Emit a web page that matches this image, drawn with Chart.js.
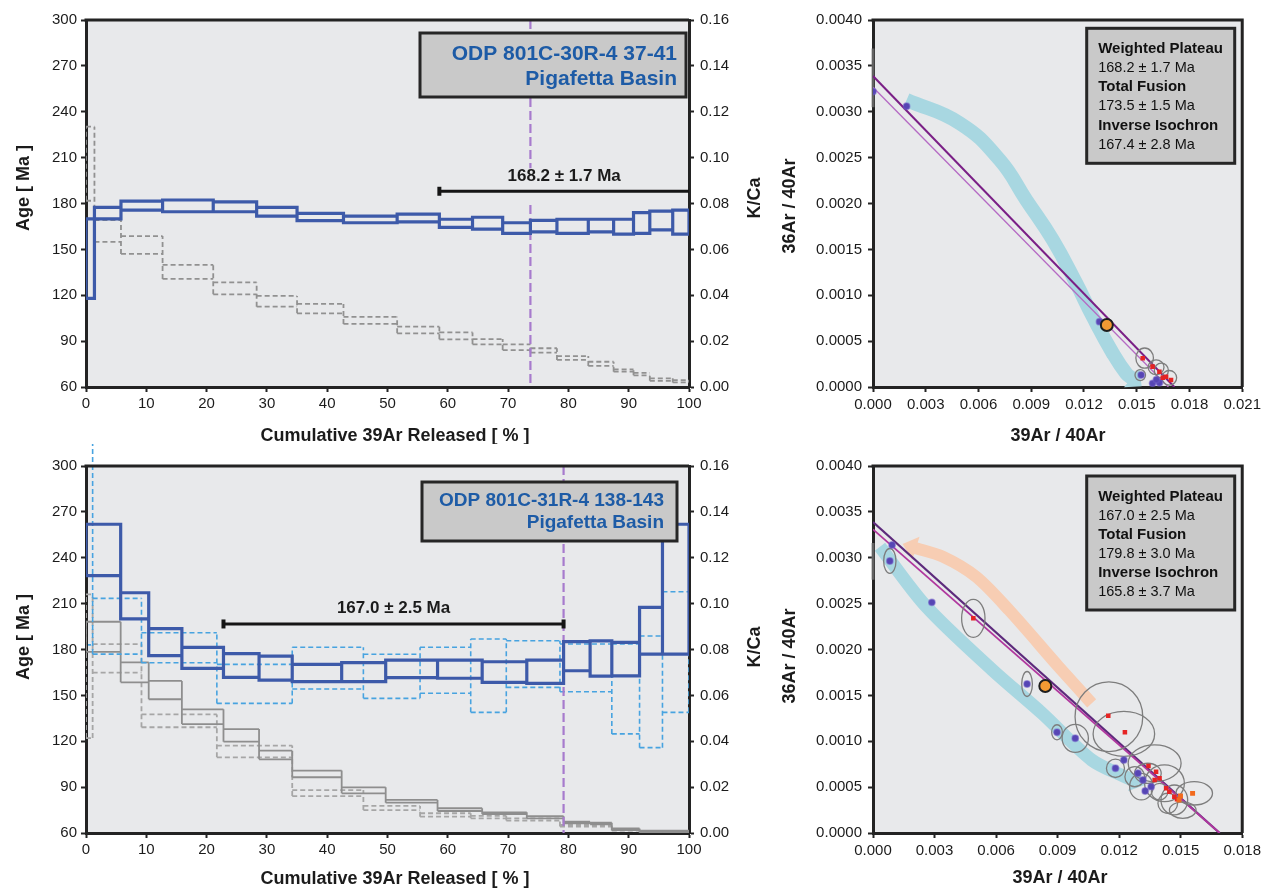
<!DOCTYPE html>
<html><head><meta charset="utf-8">
<script src="https://cdn.jsdelivr.net/npm/chart.js@4.4.1/dist/chart.umd.min.js"></script>
<style>
html,body{margin:0;padding:0;background:#fff;width:1265px;height:888px;overflow:hidden}
canvas{position:absolute;display:block}
</style></head><body>
<canvas id="c1" width="770" height="444" style="left:0;top:0;width:770px;height:444px"></canvas>
<canvas id="c2" width="495" height="444" style="left:770px;top:0;width:495px;height:444px"></canvas>
<canvas id="c3" width="770" height="444" style="left:0;top:444px;width:770px;height:444px"></canvas>
<canvas id="c4" width="495" height="444" style="left:770px;top:444px;width:495px;height:444px"></canvas>
<script>
// ================= DATA =================
// ---- tick labels ----
const pctTicks = [0,10,20,30,40,50,60,70,80,90,100];
const ageTicks = [60,90,120,150,180,210,240,270,300];
const kcaTicks = [0,0.02,0.04,0.06,0.08,0.10,0.12,0.14,0.16];
const isoXTicks30 = [0,0.003,0.006,0.009,0.012,0.015,0.018,0.021];
const isoXTicks31 = [0,0.003,0.006,0.009,0.012,0.015,0.018];
const isoYTicks = [0,0.0005,0.0010,0.0015,0.0020,0.0025,0.0030,0.0035,0.0040];

// ---- ODP 801C-30R-4 37-41 : age spectrum ----
const steps30 = [0,1.4,5.8,12.7,21.1,28.3,35.0,42.7,51.6,58.6,64.1,69.1,73.7,78.1,83.3,87.5,90.8,93.5,97.3,100];
const ageHi30 = [170,177.5,181.6,182.3,181,177.5,173.6,171.8,173,169.7,171,167.4,169,169.7,169.7,169.7,174,175,175.7];
const ageLo30 = [118,170,175.7,174.6,174.6,171.8,168.8,167.4,168,164.4,163.3,160.5,161.5,160.5,161.5,160,160.5,162.7,160];
const kcaHi30 = [0.1135,0.0728,0.0658,0.0532,0.0456,0.0397,0.0362,0.0306,0.0263,0.0238,0.0209,0.0186,0.0169,0.0135,0.0110,0.0077,0.0062,0.0038,0.0030];
const kcaLo30 = [0.0812,0.0633,0.0580,0.0471,0.0404,0.0350,0.0321,0.0275,0.0234,0.0208,0.0186,0.0161,0.0150,0.0118,0.0092,0.0067,0.0051,0.0027,0.0020];
const plateau30 = [58.6,100];
const plateauLevel30 = 188;
const plateauText30 = '168.2 ± 1.7 Ma';
const marker30 = 73.7;
const markerAges30 = [300,203,null,179,60];
const label30 = ['ODP 801C-30R-4 37-41','Pigafetta Basin'];

// ---- ODP 801C-31R-4 138-143 : age spectrum ----
const stepsA31 = [0,5.75,10.4,15.9,22.8,28.7,34.2,42.4,49.7,58.3,65.7,73.1,79.2,83.6,87.2,91.8,95.6,100];
const ageHi31 = [261.9,217.1,193.6,181.4,177.3,175.7,170.3,171.4,173.1,173.1,172,173.1,185.1,185.7,184.7,207.6,261.9];
const ageLo31 = [228.3,200,176,167.7,161.8,160,159,159,161.6,161.2,158.5,157.8,166.1,162.6,162.8,177,177];
const grayHiA31 = [0.0921,0.0744,0.0663,0.0539,0.0453,0.0359,0.0272,0.0199,0.0144,0.0108,0.0090,0.0074,0.0049,0.0045,0.0020,0.0010,0.0010];
const grayLoA31 = [0.0790,0.0657,0.0583,0.0475,0.0398,0.0321,0.0243,0.0173,0.0132,0.0096,0.0082,0.0064,0.0042,0.0038,0.0013,0.0004,0.0004];
const stepsB31 = [0,1.1,9.2,21.7,34.2,46.0,55.4,63.8,69.7,78.6,87.2,91.8,95.6,100];
const kcaHiB31 = [0.20,0.1023,0.0873,0.0735,0.0810,0.0779,0.0810,0.0846,0.0838,0.0824,0.0824,0.0859,0.1052];
const kcaLoB31 = [0.082,0.0780,0.0742,0.0565,0.0628,0.0587,0.0609,0.0526,0.0635,0.0616,0.0432,0.0372,0.0526];
const grayHiB31 = [0.104,0.0823,0.0517,0.0381,0.0187,0.0118,0.0086,0.0075,0.0064,0.0035,0.0015,0.0005,0.0005];
const grayLoB31 = [0.0414,0.0699,0.0461,0.0330,0.0161,0.0100,0.0071,0.0064,0.0054,0.0028,0.0010,0.0002,0.0002];
const plateau31 = [22.8,79.2];
const plateauLevel31 = 196.7;
const plateauText31 = '167.0 ± 2.5 Ma';
const marker31 = 79.2;
const markerAges31 = [300,60];
const label31 = ['ODP 801C-31R-4 138-143','Pigafetta Basin'];

// ---- inverse isochron 30R ----
const isoStepX30 = [0.0000,0.00191,0.01288,0.01525,0.01590,0.01629,0.01612];
const isoStepY30 = [0.00322,0.00306,0.000712,0.000131,0.000040,0.000047,0.000080];
const isoPlatX30 = [0.01534,0.01590,0.01629,0.01648,0.01667,0.01695];
const isoPlatY30 = [0.000313,0.000222,0.000167,0.000100,0.000112,0.000076];
const isoTotalX30 = [0.0133];
const isoTotalY30 = [0.000676];
const ellX30 = [0.01545,0.01610,0.01640,0.01685,0.01520];
const ellY30 = [0.000315,0.000215,0.000180,0.000100,0.000130];
const ellEX30 = [0.00050,0.00045,0.00040,0.00042,0.00030];
const ellEY30 = [0.00011,0.00008,0.00008,0.00008,0.00006];
const fitX30 = [0,0.01714];
const fitY30 = [0.00339,0];
const fit2X30 = [0,0.0168];
const fit2Y30 = [0.003267,0];
const interceptY30 = [0.00369,0.00305];
const trendX30 = [0.00191,0.00494,0.00721,0.00872,0.01023,0.01156,0.01250,0.01364,0.01440,0.01480];
const trendY30 = [0.003128,0.002874,0.002474,0.002038,0.001602,0.001130,0.000767,0.000367,0.000149,0.000085];
const stats30 = [['Weighted Plateau','168.2 ± 1.7 Ma'],['Total Fusion','173.5 ± 1.5 Ma'],['Inverse Isochron','167.4 ± 2.8 Ma']];

// ---- inverse isochron 31R ----
const isoStepX31 = [0.00093,0.00082,0.00287,0.00751,0.00897,0.00986,0.01182,0.01223,0.01292,0.01316,0.01327,0.01356];
const isoStepY31 = [0.003139,0.002965,0.002514,0.001624,0.001098,0.001032,0.000705,0.000796,0.000651,0.000578,0.000458,0.000505];
const isoPlatX31 = [0.00489,0.01147,0.01228,0.01343,0.01380,0.01373,0.01397,0.01429,0.01445,0.01469,0.01482];
const isoPlatY31 = [0.00234,0.001279,0.001098,0.00073,0.000668,0.000578,0.000596,0.000487,0.00045,0.000396,0.000367];
const isoHighX31 = [0.01499,0.01558,0.01492];
const isoHighY31 = [0.000403,0.000432,0.000360];
const isoTotalX31 = [0.0084];
const isoTotalY31 = [0.001602];
const ellX31 = [0.00082,0.00489,0.00751,0.00897,0.00986,0.01150,0.01223,0.01182,0.01373,0.01421,0.01566,0.01469,0.01308,0.01340,0.01437,0.01276,0.01397,0.01510];
const ellY31 = [0.002965,0.00234,0.001624,0.001098,0.001032,0.001268,0.00108,0.000705,0.00076,0.000542,0.000432,0.00036,0.000505,0.00065,0.000324,0.000614,0.00045,0.00025];
const ellEX31 = [0.00030,0.00057,0.00026,0.00026,0.00064,0.00165,0.00150,0.00044,0.00129,0.00097,0.00089,0.00065,0.00057,0.00065,0.00048,0.00048,0.00040,0.00065];
const ellEY31 = [0.000136,0.000207,0.000136,0.000082,0.000153,0.00038,0.000245,0.0001,0.0002,0.0002,0.000127,0.000163,0.000145,0.00011,0.00011,0.00011,0.00009,0.00009];
const fitX31 = [0,0.0169];
const fitY31 = [0.00339,0];
const fit2X31 = [0,0.0169];
const fit2Y31 = [0.00331,0];
const interceptY31 = [0.00316,0.00276];
const trendX31 = [0.00034,0.00260,0.00582,0.00824,0.01066,0.01228,0.01275];
const trendY31 = [0.00312,0.002467,0.001777,0.001305,0.000796,0.000614,0.000570];
const returnX31 = [0.01066,0.00905,0.00663,0.00502,0.00340,0.00200];
const returnY31 = [0.001413,0.001813,0.00243,0.002794,0.003012,0.00311];
const stats31 = [['Weighted Plateau','167.0 ± 2.5 Ma'],['Total Fusion','179.8 ± 3.0 Ma'],['Inverse Isochron','165.8 ± 3.7 Ma']];

// ================= STYLE / HELPERS =================
const FONT = "'Liberation Sans', Arial, Helvetica, sans-serif";
Chart.defaults.font.family = FONT;
Chart.defaults.animation = false;
const PLOT_BG = '#e8e9eb', AXIS = '#232323', TXT = '#1b1b1b';
const BLUE = '#3d5aa9', LBLUE = '#47a3e0', GRAY = '#8e8e8e', LGRAY = '#a6a6a6', PURPLE = '#a77bcd';

// step spectrum: upper & lower step lines joined by verticals at every step boundary
function stairs(steps, hi, lo) {
  const pts = [];
  const seg = (x1, y1, x2, y2) => pts.push({x: x1, y: y1}, {x: x2, y: y2}, {x: x2, y: null});
  for (let i = 0; i < hi.length; i++) {
    seg(steps[i], hi[i], steps[i + 1], hi[i]);
    seg(steps[i], lo[i], steps[i + 1], lo[i]);
  }
  for (let j = 0; j <= hi.length; j++) {
    const idx = [j - 1, j].filter(k => k >= 0 && k < hi.length);
    seg(steps[j], Math.min(...idx.map(k => lo[k])), steps[j], Math.max(...idx.map(k => hi[k])));
  }
  return pts;
}
const xy = (xs, ys) => xs.map((x, i) => ({x, y: ys[i]}));
const fixedTicks = arr => (s => { s.ticks = arr.map(v => ({value: v})); });

function txt(ctx, s, x, y, font, color, align, rot) {
  ctx.save(); ctx.translate(x, y); ctx.rotate(rot || 0);
  ctx.font = font; ctx.fillStyle = color; ctx.textAlign = align || 'center'; ctx.textBaseline = 'middle';
  ctx.fillText(s, 0, 0); ctx.restore();
}
function panel(ctx, x, y, w, h) {
  ctx.save(); ctx.fillStyle = '#c9c9c9'; ctx.fillRect(x, y, w, h);
  ctx.lineWidth = 3; ctx.strokeStyle = '#262626'; ctx.strokeRect(x, y, w, h); ctx.restore();
}

function makeDeco(cfg) {
  return {
    id: 'deco',
    beforeDraw(chart) {
      const {ctx, chartArea: a} = chart;
      ctx.save(); ctx.fillStyle = PLOT_BG; ctx.fillRect(a.left, a.top, a.right - a.left, a.bottom - a.top); ctx.restore();
    },
    afterDatasetDraw(chart, args) {
      const ds = chart.data.datasets[args.index];
      const ctx = chart.ctx;
      if (ds.arrow) {
        const pts = args.meta.data, p1 = pts[pts.length - 1], p0 = pts[pts.length - 2];
        const ang = Math.atan2(p1.y - p0.y, p1.x - p0.x);
        ctx.save(); ctx.fillStyle = ds.borderColor; ctx.translate(p1.x, p1.y); ctx.rotate(ang);
        ctx.beginPath(); ctx.moveTo(ds.arrow[0], 0); ctx.lineTo(-2, -ds.arrow[1]); ctx.lineTo(-2, ds.arrow[1]); ctx.closePath(); ctx.fill(); ctx.restore();
      }
      if (ds.ellipsesAfter && cfg.ell) {
        const sx = chart.scales.x, sy = chart.scales.y, e = cfg.ell;
        ctx.save(); ctx.strokeStyle = '#7d7d7d'; ctx.lineWidth = 1.3;
        for (let i = 0; i < e.x.length; i++) {
          const px = sx.getPixelForValue(e.x[i]), py = sy.getPixelForValue(e.y[i]);
          const rx = Math.abs(sx.getPixelForValue(e.x[i] + e.ex[i]) - px);
          const ry = Math.abs(sy.getPixelForValue(e.y[i] + e.ey[i]) - py);
          ctx.beginPath(); ctx.ellipse(px, py, rx, ry, 0, 0, Math.PI * 2); ctx.stroke();
        }
        ctx.restore();
      }
    },
    afterDatasetsDraw(chart) {
      const ctx = chart.ctx;
      if (cfg.plateau) {
        const p = cfg.plateau, sx = chart.scales.x, sy = chart.scales.y;
        const x = (sx.getPixelForValue(p.from) + sx.getPixelForValue(p.to)) / 2;
        txt(ctx, p.text, x, sy.getPixelForValue(p.level) - p.dy, 'bold 17px ' + FONT, TXT, 'center');
      }
    },
    afterDraw(chart) {
      const {ctx, chartArea: a} = chart;
      ctx.save(); ctx.strokeStyle = AXIS; ctx.lineWidth = 3; ctx.beginPath();
      ctx.moveTo(a.left - 1.5, a.top); ctx.lineTo(a.right, a.top);
      if (cfg.rightFrame) ctx.lineTo(a.right, a.bottom);
      ctx.stroke(); ctx.restore();
      (cfg.titles || []).forEach(t => txt(ctx, t[0], t[1], t[2], 'bold 18px ' + FONT, TXT, 'center', t[3] || 0));
      if (cfg.sample) {
        const b = cfg.sample;
        const x = a.right - b.dr - b.w, y = a.top + b.dt;
        panel(ctx, x, y, b.w, b.h);
        b.lines.forEach((s, i) => txt(ctx, s, x + b.w - b.tr, y + b.l[i], 'bold ' + b.fs + 'px ' + FONT, '#1d5ba6', 'right'));
      }
      if (cfg.stats) {
        const b = cfg.stats;
        const x = a.left + b.dl, y = a.top + b.dt;
        panel(ctx, x, y, b.w, b.h);
        const offs = [20.5, 39.7, 58.8, 78, 97.2, 116.4];
        b.rows.forEach((r, i) => {
          txt(ctx, r[0], x + 11.5, y + offs[2 * i], 'bold 15px ' + FONT, '#111', 'left');
          txt(ctx, r[1], x + 11.5, y + offs[2 * i + 1], '14.5px ' + FONT, '#111', 'left');
        });
      }
    }
  };
}

function axisCommon(extra) {
  return Object.assign({
    grid: {drawOnChartArea: false, drawTicks: true, tickLength: 5, tickWidth: 2, tickColor: AXIS},
    border: {display: true, color: AXIS, width: 3},
  }, extra);
}

function spectrum(id, cfg) {
  return new Chart(document.getElementById(id), {
    type: 'scatter',
    data: {datasets: cfg.datasets},
    options: {
      responsive: false, animation: false, devicePixelRatio: 1,
      layout: {padding: {top: cfg.top, left: 0, right: 0, bottom: 0}},
      plugins: {legend: {display: false}, tooltip: {enabled: false}},
      elements: {point: {radius: 0}, line: {tension: 0, borderCapStyle: 'square'}},
      scales: {
        x: axisCommon({type: 'linear', min: 0, max: 100, afterBuildTicks: fixedTicks(pctTicks),
          ticks: {font: {size: 15}, color: TXT, padding: 3, maxRotation: 0, callback: v => String(v)},
          afterFit: s => { s.height = cfg.xh; }}),
        y: axisCommon({type: 'linear', position: 'left', min: 60, max: 300, afterBuildTicks: fixedTicks(ageTicks),
          ticks: {font: {size: 15}, color: TXT, padding: 4, callback: v => String(v)},
          afterFit: s => { s.width = 86; }}),
        k: axisCommon({type: 'linear', position: 'right', min: 0, max: 0.16, afterBuildTicks: fixedTicks(kcaTicks),
          ticks: {font: {size: 15}, color: TXT, padding: 6, callback: v => v.toFixed(2)},
          afterFit: s => { s.width = 81; }})
      }
    },
    plugins: [makeDeco(cfg.deco)]
  });
}

function isochron(id, cfg) {
  return new Chart(document.getElementById(id), {
    type: 'scatter',
    data: {datasets: cfg.datasets},
    options: {
      responsive: false, animation: false, devicePixelRatio: 1,
      layout: {padding: {top: cfg.top, left: 0, right: cfg.right, bottom: 0}},
      plugins: {legend: {display: false}, tooltip: {enabled: false}},
      elements: {line: {tension: 0}},
      scales: {
        x: axisCommon({type: 'linear', min: 0, max: cfg.xmax, afterBuildTicks: fixedTicks(cfg.xticks),
          ticks: {font: {size: 15}, color: TXT, padding: 4, maxRotation: 0, callback: v => v.toFixed(3)},
          afterFit: s => { s.height = cfg.xh; }}),
        y: axisCommon({type: 'linear', position: 'left', min: 0, max: 0.004, afterBuildTicks: fixedTicks(isoYTicks),
          ticks: {font: {size: 15}, color: TXT, padding: 6, callback: v => v.toFixed(4)},
          afterFit: s => { s.width = 103; }})
      }
    },
    plugins: [makeDeco(cfg.deco)]
  });
}

// ================= CHART 1 : 30R spectrum =================
spectrum('c1', {
  top: 20, xh: 57,
  datasets: [
    {data: [{x: plateau30[0], y: plateauLevel30}, {x: plateau30[1], y: plateauLevel30}], showLine: true, borderColor: '#151515', borderWidth: 3, borderCapStyle: 'butt', pointRadius: 0, order: 0},
    {data: [{x: plateau30[0], y: plateauLevel30}], pointStyle: 'line', rotation: 90, pointRadius: 4.5, borderWidth: 4, borderColor: '#151515', order: 0},
    {data: stairs(steps30, ageHi30, ageLo30), showLine: true, borderColor: BLUE, borderWidth: 3.2, pointRadius: 0, spanGaps: false, order: 1},
    {data: markerAges30.map(v => ({x: marker30, y: v})), showLine: true, borderColor: PURPLE, borderWidth: 2.2, borderDash: [9, 4], borderCapStyle: 'butt', pointRadius: 0, spanGaps: false, order: 2},
    {data: stairs(steps30, kcaHi30, kcaLo30), yAxisID: 'k', showLine: true, borderColor: '#919191', borderWidth: 1.8, borderDash: [5, 3], borderCapStyle: 'butt', pointRadius: 0, spanGaps: false, order: 3}
  ],
  deco: {
    plateau: {from: plateau30[0], to: plateau30[1], level: plateauLevel30, text: plateauText30, dy: 15},
    titles: [['Cumulative 39Ar Released [ % ]', 395, 436], ['Age [ Ma ]', 24, 188, -Math.PI / 2], ['K/Ca', 755, 198, -Math.PI / 2]],
    sample: {lines: label30, dr: 3, dt: 13, w: 266, h: 64, tr: 9, l: [21.5, 46.5], fs: 21},
    rightFrame: false
  }
});

// ================= CHART 3 : 31R spectrum =================
spectrum('c3', {
  top: 22, xh: 55,
  datasets: [
    {data: [{x: plateau31[0], y: plateauLevel31}, {x: plateau31[1], y: plateauLevel31}], showLine: true, borderColor: '#151515', borderWidth: 3, borderCapStyle: 'butt', pointRadius: 0, order: 0},
    {data: [{x: plateau31[0], y: plateauLevel31}, {x: plateau31[1], y: plateauLevel31}], pointStyle: 'line', rotation: 90, pointRadius: 4.5, borderWidth: 4, borderColor: '#151515', order: 0},
    {data: stairs(stepsA31, ageHi31, ageLo31), showLine: true, borderColor: BLUE, borderWidth: 3.2, pointRadius: 0, spanGaps: false, order: 1},
    {data: markerAges31.map(v => ({x: marker31, y: v})), showLine: true, borderColor: PURPLE, borderWidth: 2.2, borderDash: [9, 4], borderCapStyle: 'butt', pointRadius: 0, order: 2},
    {data: stairs(stepsB31, kcaHiB31, kcaLoB31), yAxisID: 'k', showLine: true, borderColor: LBLUE, borderWidth: 1.6, borderDash: [5, 3], borderCapStyle: 'butt', pointRadius: 0, spanGaps: false, order: 3, clip: {left: -2, top: 26, right: 0, bottom: 0}},
    {data: stairs(stepsA31, grayHiA31, grayLoA31), yAxisID: 'k', showLine: true, borderColor: GRAY, borderWidth: 1.8, borderCapStyle: 'butt', pointRadius: 0, spanGaps: false, order: 4},
    {data: stairs(stepsB31, grayHiB31, grayLoB31), yAxisID: 'k', showLine: true, borderColor: LGRAY, borderWidth: 1.8, borderDash: [5, 3], borderCapStyle: 'butt', pointRadius: 0, spanGaps: false, order: 5}
  ],
  deco: {
    plateau: {from: plateau31[0], to: plateau31[1], level: plateauLevel31, text: plateauText31, dy: 16},
    titles: [['Cumulative 39Ar Released [ % ]', 395, 435], ['Age [ Ma ]', 24, 193, -Math.PI / 2], ['K/Ca', 755, 203, -Math.PI / 2]],
    sample: {lines: label31, dr: 12, dt: 16, w: 255, h: 59, tr: 13, l: [18.5, 41], fs: 19},
    rightFrame: false
  }
});

// ================= CHART 2 : 30R isochron =================
isochron('c2', {
  top: 20, right: 22, xh: 57, xmax: 0.021, xticks: isoXTicks30,
  datasets: [
    {data: xy(isoTotalX30, isoTotalY30), pointRadius: 6, backgroundColor: '#f39a33', borderColor: '#1e1e1e', borderWidth: 2, order: 1},
    {data: xy(isoPlatX30, isoPlatY30), pointRadius: 3.2, pointStyle: 'rect', backgroundColor: '#e62424', borderColor: '#e62424', borderWidth: 0, order: 2},
    {data: xy(isoStepX30, isoStepY30), pointRadius: 3.2, backgroundColor: '#5646b4', borderColor: 'rgba(110,90,200,0.5)', borderWidth: 1.5, order: 3},
    {data: xy(fit2X30, fit2Y30), showLine: true, borderColor: '#b56ac4', borderWidth: 1.3, pointRadius: 0, order: 4, ellipsesAfter: true},
    {data: xy(fitX30, fitY30), showLine: true, borderColor: '#7a1f86', borderWidth: 2, pointRadius: 0, order: 5},
    {data: interceptY30.map(v => ({x: 0, y: v})), showLine: true, borderColor: 'rgba(120,120,120,0.75)', borderWidth: 3, pointRadius: 0, order: 6, clip: false},
    {data: xy(trendX30, trendY30), showLine: true, borderColor: '#a8d7e1', borderWidth: 14, tension: 0.45, pointRadius: 0, order: 10, arrow: [11, 12]}
  ],
  deco: {
    ell: {x: ellX30, y: ellY30, ex: ellEX30, ey: ellEY30},
    titles: [['39Ar / 40Ar', 288, 436], ['36Ar / 40Ar', 20, 206, -Math.PI / 2]],
    stats: {rows: stats30, dl: 213.7, dt: 8.3, w: 148, h: 135},
    rightFrame: true
  }
});

// ================= CHART 4 : 31R isochron =================
isochron('c4', {
  top: 22, right: 20, xh: 55, xmax: 0.018, xticks: isoXTicks31,
  datasets: [
    {data: xy(isoTotalX31, isoTotalY31), pointRadius: 6, backgroundColor: '#f39a33', borderColor: '#1e1e1e', borderWidth: 2, order: 1},
    {data: xy(isoHighX31, isoHighY31), pointRadius: 3.5, pointStyle: 'rect', backgroundColor: '#f26a1d', borderColor: '#f26a1d', borderWidth: 0, order: 2},
    {data: xy(isoPlatX31, isoPlatY31), pointRadius: 3.2, pointStyle: 'rect', backgroundColor: '#e62424', borderColor: '#e62424', borderWidth: 0, order: 2},
    {data: xy(isoStepX31, isoStepY31), pointRadius: 3.2, backgroundColor: '#5646b4', borderColor: 'rgba(110,90,200,0.5)', borderWidth: 1.5, order: 3},
    {data: xy(fit2X31, fit2Y31), showLine: true, borderColor: '#b0379e', borderWidth: 1.8, pointRadius: 0, order: 4, ellipsesAfter: true},
    {data: xy(fitX31, fitY31), showLine: true, borderColor: '#5d2a7c', borderWidth: 2.2, pointRadius: 0, order: 5},
    {data: interceptY31.map(v => ({x: 0, y: v})), showLine: true, borderColor: 'rgba(120,120,120,0.75)', borderWidth: 3, pointRadius: 0, order: 6, clip: false},
    {data: xy(returnX31, returnY31), showLine: true, borderColor: '#f7cdb3', borderWidth: 12, tension: 0.3, pointRadius: 0, order: 9, arrow: [12, 12]},
    {data: xy(trendX31, trendY31), showLine: true, borderColor: '#a8d7e1', borderWidth: 13, tension: 0.3, pointRadius: 0, order: 10, arrow: [11, 12]}
  ],
  deco: {
    ell: {x: ellX31, y: ellY31, ex: ellEX31, ey: ellEY31},
    titles: [['39Ar / 40Ar', 290, 434], ['36Ar / 40Ar', 20, 212, -Math.PI / 2]],
    stats: {rows: stats31, dl: 213.7, dt: 10, w: 148, h: 134},
    rightFrame: true
  }
});
</script>
</body></html>
